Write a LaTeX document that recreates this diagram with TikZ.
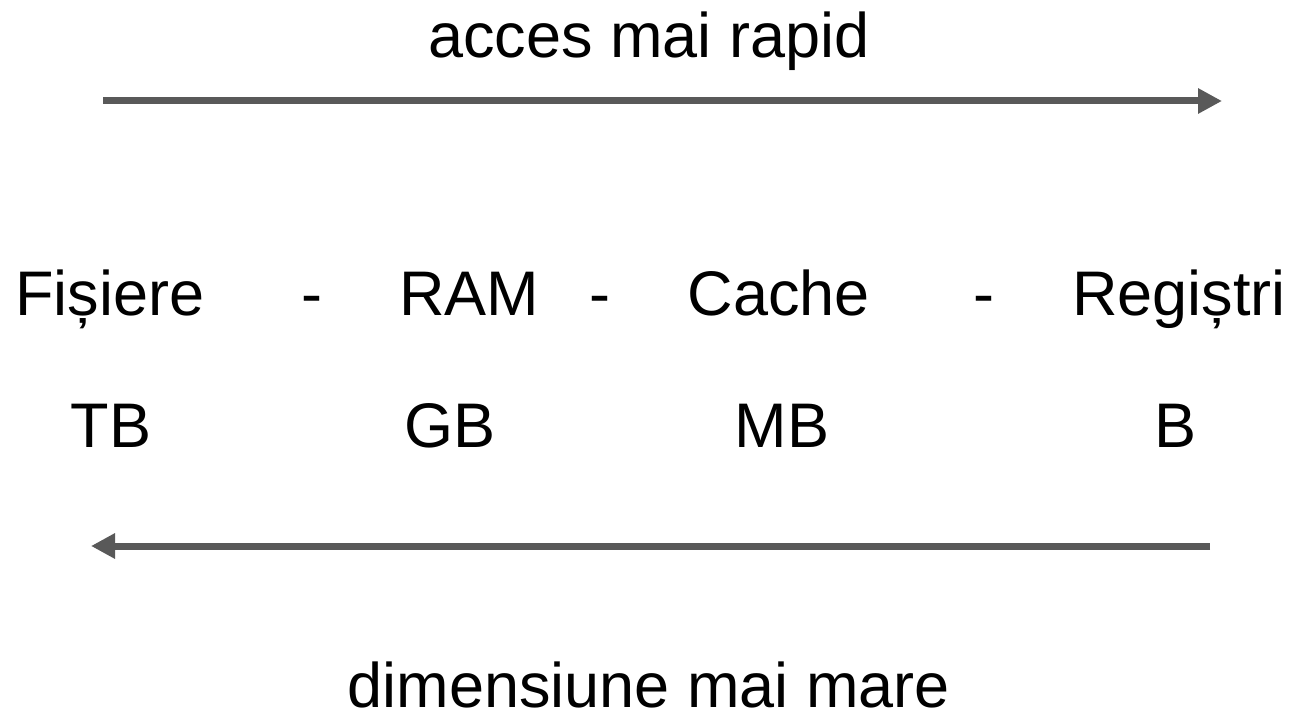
\documentclass[tikz,border=0pt]{standalone}
\usepackage{fontspec}
\setmainfont{Liberation Sans}
\usetikzlibrary{arrows.meta}
\definecolor{arrowgray}{HTML}{595959}
\begin{document}
\begin{tikzpicture}[x=1pt,y=-1pt,
  label/.style={anchor=base,inner sep=0pt,font=\fontsize{63}{75}\selectfont},
  bigarrow/.style={draw=arrowgray,line width=7pt,-{Triangle[length=24pt,width=24pt]}}]
  \useasboundingbox (0,0) rectangle (1291,714);
  % headings
  \node[label] (fast) at (649,58) {acces mai rapid};
  \node[label] (big) at (649,707) {dimensiune mai mare};
  % memory levels
  \node[label] (files) at (110,315) {Fișiere};
  \node[label] (d1) at (312,315) {-};
  \node[label] (ram) at (469,315) {RAM};
  \node[label] (d2) at (600,315) {-};
  \node[label] (cache) at (779,315) {Cache};
  \node[label] (d3) at (984,315) {-};
  \node[label] (regs) at (1179,315) {Regiștri};
  % typical sizes
  \node[label] (tb) at (111,447) {TB};
  \node[label] (gb) at (450,447) {GB};
  \node[label] (mb) at (782,447) {MB};
  \node[label] (b) at (1175,447) {B};
  % direction arrows
  \coordinate (s1) at (103,101);
  \coordinate (e1) at (1222,101);
  \coordinate (s2) at (1210,546);
  \coordinate (e2) at (91,546);
  \draw[bigarrow] (s1) -- (e1);
  \draw[bigarrow] (s2) -- (e2);
\end{tikzpicture}
\end{document}
